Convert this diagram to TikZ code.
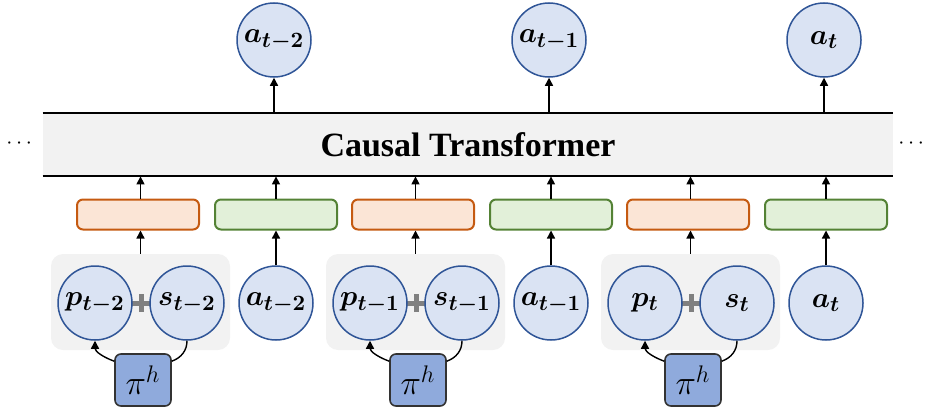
\documentclass[tikz,border=0pt]{standalone}
\usepackage{amsmath,amssymb,bm}
\usepackage{fontspec}
\setmainfont{Liberation Serif}
\usepackage{tikz}
\usetikzlibrary{arrows.meta,positioning,calc}
\definecolor{TokLine}{HTML}{2F5597}
\definecolor{TokFill}{HTML}{DAE3F3}
\definecolor{StOrange}{HTML}{C55A11}
\definecolor{StFill}{HTML}{FBE5D6}
\definecolor{ActGreen}{HTML}{548235}
\definecolor{ActFill}{HTML}{E2F0D9}
\definecolor{PolBlue}{HTML}{8FAADC}
\definecolor{BandGrey}{HTML}{F2F2F2}
\definecolor{PlusGrey}{HTML}{808080}

\begin{document}
\begin{tikzpicture}[
        x=0.5pt,y=0.5pt,
        tok/.style={circle,draw=TokLine,fill=TokFill,line width=0.75pt,minimum size=37pt,inner sep=0pt,font=\fontsize{15}{17}\selectfont},
        stbox/.style={draw=StOrange,fill=StFill,rounded corners=3pt,line width=1pt,minimum width=61pt,minimum height=15pt,inner sep=0pt},
        actbox/.style={draw=ActGreen,fill=ActFill,rounded corners=3pt,line width=1pt,minimum width=61pt,minimum height=15pt,inner sep=0pt},
        grp/.style={fill=BandGrey,rounded corners=6pt,minimum width=89.5pt,minimum height=48pt,inner sep=0pt},
        pol/.style={draw=black!80,fill=PolBlue,rounded corners=3pt,line width=0.8pt,minimum width=28pt,minimum height=26pt,inner sep=0pt,font=\fontsize{17}{19}\selectfont},
        arr/.style={-{Triangle[length=4pt,width=4pt]},line width=0.7pt,black}
      ]
        \useasboundingbox (0,0) rectangle (925,408);
        % transformer band
        \node[fill=BandGrey,minimum width=425pt,minimum height=31.5pt,inner sep=0pt,font=\bfseries\fontsize{17}{20}\selectfont] (tf) at (468,263.5) {Causal Transformer};
        \draw[line width=1pt] (tf.north west) -- (tf.north east);
        \draw[line width=1pt] (tf.south west) -- (tf.south east);
        \node[font=\fontsize{11}{13}\selectfont] (ldots) at (21,264) {$\cdots$};
        \node[font=\fontsize{11}{13}\selectfont] (rdots) at (913,264) {$\cdots$};
        \foreach \i/\sub in {0/{t-2},1/{t-1},2/t}{
          \pgfmathsetmacro{\dx}{275*\i}
          \node[grp] (g\i) at (140.5+\dx,106) {};
          \coordinate (plus\i) at (141+\dx,105);
          \draw[PlusGrey,line width=2.5pt] ($(plus\i)+(-9,0)$) -- ($(plus\i)+(9,0)$);
          \draw[PlusGrey,line width=2.5pt] ($(plus\i)+(0,-9)$) -- ($(plus\i)+(0,9)$);
          \node[tok] (p\i) at (95+\dx,105) {$\bm{p_{\sub}}$};
          \node[tok] (s\i) at (187+\dx,105) {$\bm{s_{\sub}}$};
          \node[tok] (a\i) at (276+\dx,105) {$\bm{a_{\sub}}$};
          \node[pol] (pi\i) at (143+\dx,28) {$\pi^h$};
          \node[stbox] (e\i) at (138+\dx,193.5) {};
          \node[actbox] (f\i) at (276+\dx,193.5) {};
          \node[tok] (o\i) at (274+\dx,368) {$\bm{a_{\sub}}$};
          \draw[arr] (g\i.north) -- (g\i.north |- e\i.south);
          \draw[arr] (a\i.north) -- (a\i.north |- f\i.south);
          \draw[arr] (g\i.north |- e\i.north) -- (g\i.north |- tf.south);
          \draw[arr] (f\i.north) -- (f\i.north |- tf.south);
          \draw[arr] (o\i.south |- tf.north) -- (o\i.south);
          \draw[arr] ([yshift=-4pt]pi\i.north west) to[out=160,in=-90] (p\i.south);
          \draw[line width=0.7pt] (s\i.south) to[out=-90,in=20] ([yshift=-4pt]pi\i.north east);
        }
      \end{tikzpicture}
\end{document}
